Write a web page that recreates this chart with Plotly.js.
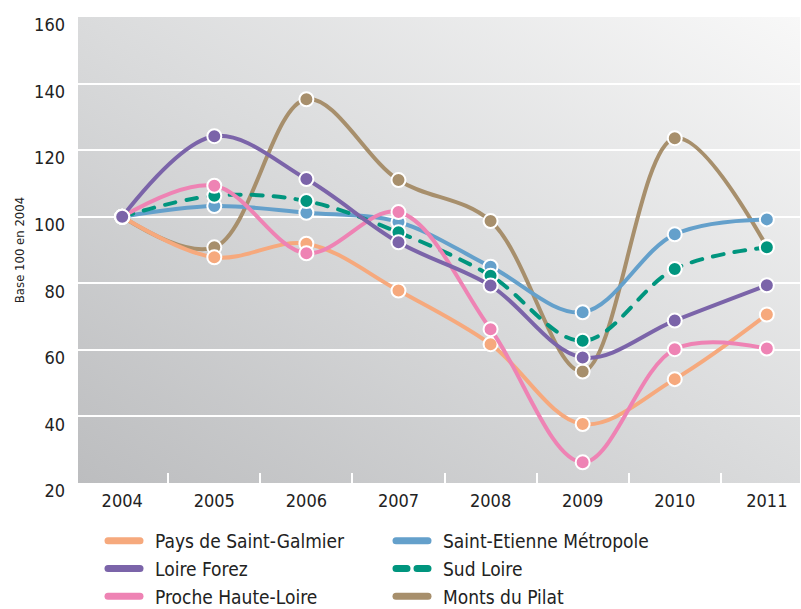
<!DOCTYPE html>
<html>
<head>
<meta charset="utf-8">
<script src="https://cdn.plot.ly/plotly-3.0.1.min.js"></script>
<style>
  html, body { margin: 0; padding: 0; background: #fff; }
  #chart { width: 801px; height: 609px; }
  .legend .js-line { stroke-linecap: round; }
  .scatterlayer .js-line { stroke-linecap: round; }
</style>
</head>
<body>
<div id="chart"></div>
<script>
// ---- data ----
var years = ['2004', '2005', '2006', '2007', '2008', '2009', '2010', '2011'];
var paysSaintGalmier   = [100, 87.8, 91.9, 77.8, 61.7, 37.7, 51.2, 70.6];
var saintEtienneMetro  = [100, 103.2, 101.2, 98.4, 85.0, 71.3, 94.7, 99.2];
var loireForez         = [100, 124.2, 111.3, 92.3, 79.3, 57.7, 68.8, 79.4];
var sudLoire           = [100, 106.3, 104.7, 95.3, 82.3, 62.7, 84.3, 90.8];
var procheHauteLoire   = [100, 109.3, 89.0, 101.4, 66.2, 26.2, 60.2, 60.4];
var montsDuPilat       = [100, 90.8, 135.3, 111.0, 98.7, 53.5, 123.6, 91.0];
var yTicks = [20, 40, 60, 80, 100, 120, 140, 160];

var FONT = '"DejaVu Sans Condensed", "Liberation Sans Narrow", "Arial Narrow", sans-serif';

// series definitions: draw order (bottom -> top) and legend rank
var series = [
  {name: 'Monts du Pilat',          y: montsDuPilat,      color: '#A78F6C', dash: 'solid', rank: 6},
  {name: 'Saint-Etienne Métropole', y: saintEtienneMetro, color: '#64A0CB', dash: 'solid', rank: 2},
  {name: 'Sud Loire',               y: sudLoire,          color: '#00957E', dash: '11px,11px', rank: 4},
  {name: 'Pays de Saint-Galmier',   y: paysSaintGalmier,  color: '#F6A97D', dash: 'solid', rank: 1},
  {name: 'Proche Haute-Loire',      y: procheHauteLoire,  color: '#EE83B4', dash: 'solid', rank: 5},
  {name: 'Loire Forez',             y: loireForez,        color: '#7B64A9', dash: 'solid', rank: 3}
];

var traces = [];
series.forEach(function (s) {
  traces.push({
    type: 'scatter', mode: 'lines+markers', name: s.name,
    x: years, y: s.y,
    line: {color: s.color, width: 4, shape: 'spline', smoothing: 1, dash: s.dash},
    marker: {color: s.color, size: 14, line: {color: '#ffffff', width: 2}},
    showlegend: false, hoverinfo: 'x+y+name'
  });
});
// legend-only entries (thicker symbols)
series.forEach(function (s) {
  traces.push({
    type: 'scatter', mode: 'lines', name: s.name,
    x: [null], y: [null],
    line: {color: s.color, width: 7, dash: s.dash === 'solid' ? '32px,200px' : '11px,10px,11px,200px'},
    legendrank: s.rank, showlegend: true, hoverinfo: 'skip'
  });
});

var gradSvg = '<svg xmlns="http://www.w3.org/2000/svg" width="100" height="100" preserveAspectRatio="none">' +
  '<defs><linearGradient id="g" x1="0" y1="1" x2="1" y2="0">' +
  '<stop offset="0" stop-color="#BCBDBF"/><stop offset="0.5" stop-color="#DADBDC"/><stop offset="1" stop-color="#F8F8F8"/>' +
  '</linearGradient></defs><rect width="100" height="100" fill="url(#g)"/></svg>';
var gradUri = 'data:image/svg+xml;charset=utf-8,' + encodeURIComponent(gradSvg);

var layout = {
  width: 801, height: 609,
  margin: {l: 78, r: 1, t: 17, b: 126},
  paper_bgcolor: '#ffffff',
  plot_bgcolor: 'rgba(0,0,0,0)',
  font: {family: FONT, size: 18, color: '#222'},
  showlegend: true,
  images: [{
    source: gradUri, xref: 'paper', yref: 'paper', x: 0, y: 1, sizex: 1, sizey: 1,
    sizing: 'stretch', layer: 'below', xanchor: 'left', yanchor: 'top'
  }],
  xaxis: {
    type: 'category', categoryarray: years, categoryorder: 'array',
    range: [-0.48, 7.36], showgrid: false, zeroline: false, showline: false,
    ticks: 'inside', tickson: 'boundaries', ticklen: 10, tickwidth: 2, tickcolor: '#ffffff',
    ticklabelstandoff: 5,
    tickfont: {family: FONT, size: 18, color: '#222'}, fixedrange: true
  },
  yaxis: {
    range: [19.99, 160.01], tickvals: yTicks, ticktext: yTicks.map(String),
    showgrid: true, gridcolor: '#ffffff', gridwidth: 2, zeroline: false, showline: false,
    ticks: '', ticklabelstandoff: 12, ticklabelshift: 8,
    tickfont: {family: FONT, size: 18, color: '#222'},
    title: {text: 'Base 100 en 2004', font: {family: FONT, size: 13, color: '#222'}, standoff: 6},
    fixedrange: true
  },
  legend: {
    orientation: 'h', xref: 'container', yref: 'container',
    x: 103 / 801, y: 1 - 522 / 609, xanchor: 'left', yanchor: 'top',
    entrywidth: 231, entrywidthmode: 'pixels', traceorder: 'normal',
    font: {family: FONT, size: 19, color: '#222'},
    bgcolor: 'rgba(0,0,0,0)', itemwidth: 42, tracegroupgap: 0
  }
};

Plotly.newPlot('chart', traces, layout, {displayModeBar: false, staticPlot: true});
</script>
</body>
</html>
